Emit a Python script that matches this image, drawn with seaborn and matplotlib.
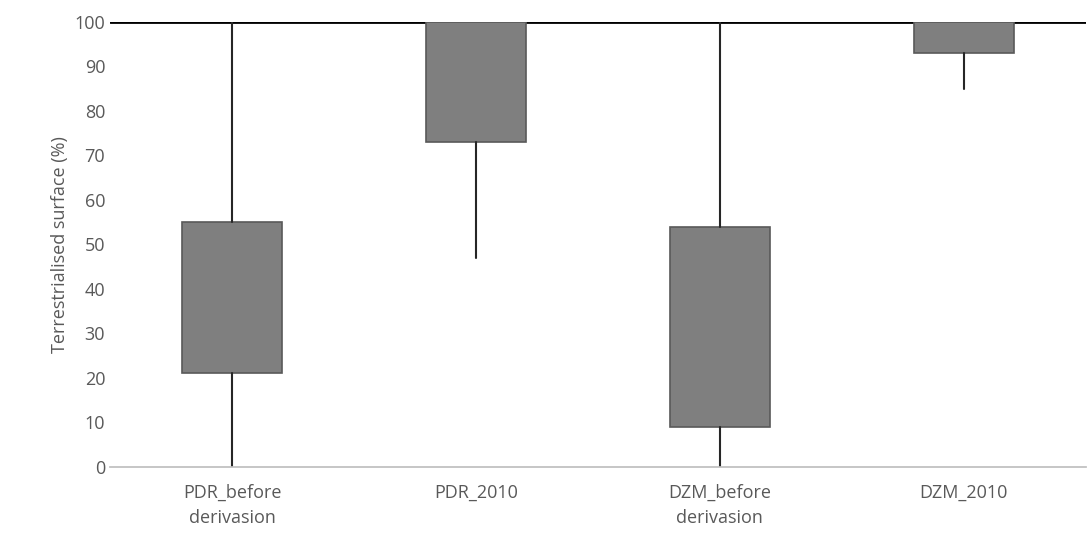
import matplotlib
matplotlib.use("Agg")
import matplotlib.pyplot as plt
import seaborn as sns

categories = ["PDR_before\nderivasion", "PDR_2010", "DZM_before\nderivasion", "DZM_2010"]
mins = [0, 47, 0, 85]
q1s = [21, 73, 9, 93]
q3s = [55, 100, 54, 100]
maxs = [100, 100, 100, 100]

sns.set_theme(style="white")
plt.rcParams['font.family'] = ['Open Sans', 'DejaVu Sans']
fig = plt.figure(figsize=(10.9, 5.48), dpi=100)
ax = fig.add_axes([0.101, 0.148, 0.895, 0.812])

stats = [dict(whislo=a, q1=b, med=(b + c) / 2, q3=c, whishi=d, label=l)
         for a, b, c, d, l in zip(mins, q1s, q3s, maxs, categories)]
ax.bxp(stats, positions=range(len(categories)), widths=0.41, showfliers=False,
       showcaps=False, patch_artist=True,
       boxprops=dict(facecolor="#7f7f7f", edgecolor="#595959", linewidth=1.2),
       whiskerprops=dict(color="#262626", linewidth=1.5),
       medianprops=dict(linewidth=0))
ax.axhline(100, color="black", linewidth=2, zorder=0)
ax.set_xlim(-0.5, 3.5)
ax.set_ylim(0, 100)
ax.set_yticks(range(0, 101, 10))
ax.set_ylabel("Terrestrialised surface (%)", fontsize=13, color="#595959")
ax.tick_params(axis="both", labelsize=13, labelcolor="#595959", length=0)
ax.tick_params(axis="x", pad=12)
for t in ax.get_xticklabels():
    t.set_linespacing(1.5)
for s in ["top", "right", "left"]:
    ax.spines[s].set_visible(False)
ax.spines["bottom"].set_color("#bfbfbf")
fig.savefig("out.png", dpi=100)
